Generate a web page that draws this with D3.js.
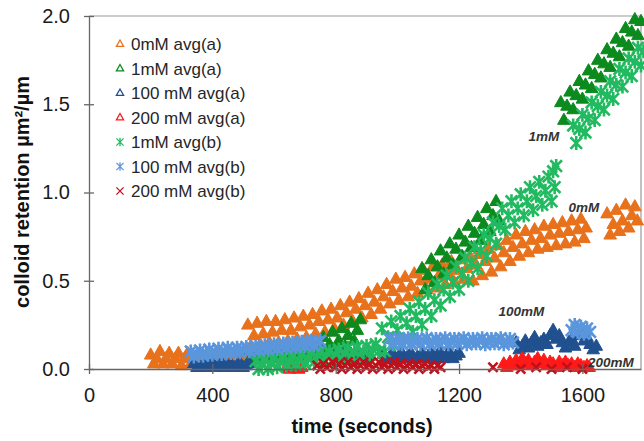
<!DOCTYPE html>
<html>
<head>
<meta charset="utf-8">
<script src="https://cdn.jsdelivr.net/npm/d3@7"></script>
<style>
  html, body { margin: 0; padding: 0; background: #fff; }
  svg { display: block; font-family: "Liberation Sans", Arial, sans-serif; }
</style>
</head>
<body>
<div id="chart"></div>
<script>
// axis ticks
const xTicks = [0, 400, 800, 1200, 1600];
const yTicks = [0, 0.5, 1.0, 1.5, 2.0];

// [time (s), retention]
const mM0a = [
  [200,.08],[210,.03],[220,.06],[230,.10],[240,.03],[250,.06],[260,.09],[270,.03],[280,.06],[290,.09],
  [300,.02],[310,.06],[320,.09],[330,.03],[340,.06],[350,.08],[360,.02],[370,.05],[380,.08],[390,.03],
  [400,.05],[410,.08],[420,.02],[430,.05],[440,.08],[450,.03],[460,.05],[470,.08],[480,.02],[490,.05],[500,.07],
  [515,.25],[525,.13],[535,.19],[545,.26],[555,.14],[565,.20],[575,.27],[585,.15],[595,.21],[605,.27],
  [615,.15],[625,.22],[635,.28],[645,.16],[655,.22],[665,.29],[675,.17],[685,.24],[695,.30],[705,.18],
  [715,.25],[725,.31],[735,.20],[745,.27],[755,.33],[765,.21],[775,.28],[785,.34],[795,.23],[805,.29],
  [815,.36],[825,.25],[835,.32],[845,.38],[855,.27],[865,.34],[875,.40],[885,.29],[895,.36],[905,.43],
  [915,.31],[925,.38],[935,.45],[945,.34],[955,.41],[965,.48],[975,.37],[985,.44],[995,.51],[1005,.39],
  [1015,.46],[1025,.52],[1035,.41],[1045,.47],[1055,.54],[1065,.43],[1075,.50],[1085,.56],[1095,.45],[1105,.51],
  [1115,.58],[1125,.46],[1135,.53],[1145,.59],[1155,.48],[1165,.54],[1175,.61],[1185,.49],[1195,.56],[1205,.62],
  [1215,.51],[1225,.57],[1235,.64],[1245,.50],[1255,.59],[1265,.65],[1275,.53],[1285,.61],[1295,.68],[1305,.55],
  [1315,.63],[1325,.70],[1335,.58],[1345,.66],[1355,.73],[1365,.61],[1375,.69],[1385,.76],[1395,.64],[1405,.71],
  [1415,.78],[1425,.66],[1435,.73],[1445,.79],[1455,.68],[1465,.74],[1475,.81],[1485,.69],[1495,.76],[1505,.82],
  [1515,.70],[1525,.77],[1535,.83],[1545,.71],[1555,.78],[1565,.84],[1575,.72],[1585,.79],[1595,.85],[1605,.74],[1612,.80],
  [1680,.88],[1690,.76],[1700,.82],[1710,.90],[1720,.78],[1730,.84],[1740,.93],[1750,.80],[1760,.87],[1770,.92],[1778,.84]
];
const mM1a = [
  [510,.10],[520,.05],[530,.08],[540,.10],[550,.05],[560,.08],[570,.11],[580,.06],[590,.08],[600,.11],
  [610,.06],[620,.09],[630,.11],[640,.06],[650,.09],[660,.12],[670,.07],[680,.09],[690,.12],[700,.07],
  [710,.10],[720,.12],[730,.08],[740,.10],[750,.13],
  [760,.18],[770,.09],[780,.14],[790,.21],[800,.11],[810,.16],[820,.23],[830,.13],[840,.19],[850,.26],
  [860,.16],[870,.22],[880,.28],
  [1080,.57],[1090,.45],[1100,.53],[1110,.62],[1120,.49],[1130,.58],[1140,.67],[1150,.54],[1160,.63],[1170,.71],
  [1180,.59],[1190,.68],[1200,.76],[1210,.64],[1220,.72],[1230,.81],[1240,.69],[1250,.77],[1260,.86],[1270,.73],
  [1280,.82],[1290,.91],[1300,.78],[1310,.87],[1320,.95],[1330,.84],
  [1530,1.51],[1540,1.41],[1550,1.49],[1560,1.57],[1570,1.47],[1580,1.55],[1590,1.63],[1600,1.53],[1610,1.61],
  [1620,1.69],[1630,1.59],[1640,1.67],[1650,1.75],[1660,1.65],[1670,1.73],[1680,1.81],[1690,1.71],[1700,1.79],
  [1710,1.87],[1720,1.77],[1730,1.85],[1740,1.93],[1750,1.83],[1760,1.91],[1770,1.98],[1780,1.89],[1790,1.97]
];
const mM100a = [
  [340,.03],[350,.01],[360,.02],[370,.035],[380,.01],[390,.02],[400,.03],[410,.01],[420,.02],[430,.035],
  [440,.01],[450,.02],[460,.03],[470,.01],[480,.02],[490,.035],[500,.01],[510,.02],[520,.03],
  [790,.08],[800,.05],[810,.065],[820,.085],[830,.05],[840,.07],[850,.085],[860,.05],[870,.07],[880,.08],
  [890,.05],[900,.065],[910,.08],
  [955,.085],[965,.055],[975,.07],[985,.09],[995,.055],[1005,.075],[1015,.09],[1025,.06],[1035,.075],[1045,.09],
  [1055,.055],[1065,.07],
  [1080,.09],[1090,.06],[1100,.075],[1110,.095],[1120,.06],[1130,.08],[1140,.095],[1150,.06],[1160,.08],[1170,.09],
  [1180,.06],[1190,.075],[1200,.09],
  [1385,.15],[1395,.11],[1405,.13],[1415,.16],[1425,.12],[1435,.15],[1445,.18],[1455,.13],[1465,.15],[1475,.17],
  [1485,.14],[1495,.19],[1505,.22],[1515,.17],[1525,.19],[1535,.15],[1545,.12],[1555,.15],[1565,.17],[1575,.13],
  [1585,.19],[1595,.21],[1605,.16],[1615,.18],[1625,.14],[1635,.11],[1645,.13]
];
const mM200a = [
  [640,.01],[650,.00],[660,.02],[670,.01],[680,.00],[690,.01],
  [1345,.03],[1355,.01],[1365,.04],[1375,.02],[1385,.05],[1395,.02],[1405,.06],[1415,.03],[1425,.05],[1435,.02],
  [1445,.04],[1455,.06],[1465,.03],[1475,.05],[1485,.02],[1495,.04],[1505,.03],[1515,.01],[1525,.04],[1535,.02],
  [1545,.04],[1555,.02],[1565,.03],[1575,.01],[1585,.03],[1595,.02],[1605,.01],[1615,.02],[1622,.01]
];
const mM1b = [
  [540,.045],[550,.00],[560,.025],[570,.05],[580,.00],[590,.03],[600,.06],[610,.01],[620,.04],[630,.065],
  [640,.02],[650,.045],[660,.07],[670,.025],[680,.05],[690,.08],[700,.03],[710,.06],[720,.09],[730,.04],
  [740,.07],[750,.095],[760,.045],[770,.075],[780,.10],[790,.05],[800,.08],[810,.11],[820,.06],[830,.09],
  [840,.12],[850,.07],[860,.095],[870,.125],[880,.075],[890,.10],[900,.13],[910,.08],[920,.11],[930,.14],[940,.10],
  [950,.23],[960,.10],[970,.18],[980,.27],[990,.14],[1000,.22],[1010,.30],[1020,.17],[1030,.26],[1040,.34],
  [1050,.21],[1060,.30],[1070,.38],[1080,.25],[1090,.34],[1100,.43],[1110,.30],[1120,.39],[1130,.48],[1140,.36],
  [1150,.45],[1160,.53],[1170,.41],[1180,.49],[1190,.58],[1200,.45],[1210,.54],[1220,.63],[1230,.50],[1240,.60],
  [1250,.69],[1260,.57],[1270,.67],[1280,.76],[1290,.64],[1300,.74],[1310,.83],[1320,.71],[1330,.81],[1340,.91],
  [1350,.79],[1360,.87],[1370,.95],[1380,.83],[1390,.91],[1400,.99],[1410,.87],[1420,.95],[1430,1.03],[1440,.90],
  [1450,.98],[1460,1.06],[1470,.93],[1480,1.01],[1490,1.09],[1500,.95],[1505,1.12],[1510,1.03],[1515,1.15],
  [1570,1.38],[1580,1.28],[1590,1.36],[1600,1.44],[1610,1.34],[1620,1.42],[1630,1.51],[1640,1.41],[1650,1.49],
  [1660,1.57],[1670,1.47],[1680,1.55],[1690,1.63],[1700,1.53],[1710,1.61],[1720,1.70],[1730,1.60],[1740,1.68],
  [1750,1.76],[1760,1.66],[1770,1.74],[1780,1.82],[1790,1.72],[1798,1.80]
];
const mM100b = [
  [330,.10],[340,.07],[350,.085],[360,.105],[370,.075],[380,.09],[390,.11],[400,.08],[410,.095],[420,.115],
  [430,.085],[440,.10],[450,.12],[460,.09],[470,.105],[480,.12],[490,.095],[500,.11],[510,.125],[520,.10],
  [530,.115],[540,.13],[550,.105],[560,.12],[570,.135],[580,.11],[590,.125],[600,.14],[610,.115],[620,.13],
  [630,.145],[640,.12],[650,.135],[660,.15],[670,.125],[680,.14],[690,.155],[700,.13],[710,.145],[720,.16],
  [730,.135],[740,.15],[750,.16],
  [975,.17],[985,.14],[995,.155],[1005,.175],[1015,.14],[1025,.16],[1035,.175],[1045,.145],[1055,.155],[1065,.17],
  [1075,.14],[1085,.16],[1095,.175],[1105,.14],[1115,.155],[1125,.17],[1135,.145],[1145,.16],[1155,.175],[1165,.14],
  [1175,.155],[1185,.17],[1195,.145],[1205,.16],[1215,.175],[1225,.14],[1235,.155],[1245,.17],[1255,.145],[1265,.16],
  [1275,.175],[1285,.14],[1295,.155],[1305,.17],[1315,.145],[1325,.16],[1335,.175],[1345,.14],[1355,.155],[1365,.17],
  [1375,.15],
  [1565,.22],[1575,.25],[1585,.21],[1595,.24],[1605,.20],[1615,.23],[1625,.21]
];
const mM200b = [
  [740,.02],[750,.00],[760,.03],[770,.01],[780,.02],[790,.04],[800,.01],[810,.03],[820,.00],[830,.02],
  [840,.04],[850,.01],[860,.03],[870,.00],[880,.02],[890,.04],[900,.01],[910,.03],[920,.00],[930,.02],
  [940,.04],[950,.01],[960,.03],[970,.00],[980,.02],[990,.04],[1000,.01],[1010,.03],[1020,.00],[1030,.02],
  [1040,.03],[1050,.01],[1060,.03],[1070,.00],[1080,.02],[1090,.03],[1100,.01],[1110,.02],[1120,.00],[1130,.02],
  [1140,.01],
  [1310,.01],
  [1400,.00],[1450,.01],[1500,.00],[1550,.01],[1600,.00]
];

const series = [
  { name: '0mM avg(a)',     data: mM0a,   color: '#E8711C', shape: 'tri'  },
  { name: '1mM avg(a)',     data: mM1a,   color: '#0C8A1E', shape: 'tri'  },
  { name: '100 mM avg(a)',  data: mM100a, color: '#21508F', shape: 'tri'  },
  { name: '200 mM avg(a)',  data: mM200a, color: '#FF1A1A', shape: 'tri'  },
  { name: '1mM avg(b)',     data: mM1b,   color: '#22BA60', shape: 'star' },
  { name: '100 mM avg(b)',  data: mM100b, color: '#5A96DC', shape: 'star' },
  { name: '200 mM avg(b)',  data: mM200b, color: '#C0101A', shape: 'x'    }
];

const notes = [
  { text: '1mM',   t: 1425, v: 1.29 },
  { text: '0mM',   t: 1555, v: 0.89 },
  { text: '100mM', t: 1328, v: 0.30 },
  { text: '200mM', t: 1618, v: 0.012 }
];

const W = 644, H = 441;
const svg = d3.select('#chart').append('svg')
  .attr('width', W).attr('height', H)
  .attr('viewBox', `0 0 ${W} ${H}`);

const x = d3.scaleLinear().domain([0, 1790]).range([89, 641]);
const y = d3.scaleLinear().domain([0, 2]).range([369, 16]);

function markerPath(shape, r) {
  if (shape === 'tri') {
    return `M0,${-r}L${r * 0.9},${r * 0.6}L${-r * 0.9},${r * 0.6}Z`;
  }
  if (shape === 'star') {
    return `M${-r},${-r}L${r},${r}M${-r},${r}L${r},${-r}M0,${-r * 1.2}L0,${r * 1.2}`;
  }
  return `M${-r},${-r}L${r},${r}M${-r},${r}L${r},${-r}`;
}

// plot area border (top / right)
svg.append('path')
  .attr('d', `M${x(0)},${y(2)}H${x(1790)}V${y(0)}`)
  .attr('fill', 'none').attr('stroke', '#9a9a9a').attr('stroke-width', 1.2);

// points: the source clouds are so dense they read as solid bands,
// so the triangles are filled here
const pts = svg.append('g').attr('class', 'points');
series.forEach(s => {
  const tri = s.shape === 'tri';
  pts.append('g')
    .selectAll('path').data(s.data).join('path')
    .attr('transform', d => `translate(${x(d[0])},${y(d[1])})`)
    .attr('d', markerPath(s.shape, tri ? 7 : (s.shape === 'star' ? 5.8 : 4.6)))
    .attr('fill', tri ? s.color : 'none')
    .attr('stroke', s.color)
    .attr('stroke-width', tri ? 1 : 2.6);
});

// axes
const gx = svg.append('g').attr('transform', `translate(0,${y(0)})`)
  .call(d3.axisBottom(x).tickValues(xTicks).tickFormat(d3.format('d'))
    .tickSizeOuter(0).tickSizeInner(5).tickPadding(14));
gx.select('.domain').attr('stroke', '#666').attr('stroke-width', 1.3);
gx.selectAll('.tick line').attr('y1', -5).attr('y2', 5).attr('stroke', '#666').attr('stroke-width', 1.3);
gx.selectAll('.tick text').attr('font-size', 20).attr('fill', '#1a1a1a')
  .attr('font-family', '"Liberation Sans", Arial, sans-serif');

const gy = svg.append('g').attr('transform', `translate(${x(0)},0)`)
  .call(d3.axisLeft(y).tickValues(yTicks).tickFormat(d3.format('.1f'))
    .tickSizeOuter(0).tickSizeInner(5).tickPadding(14));
gy.select('.domain').attr('stroke', '#666').attr('stroke-width', 1.3);
gy.selectAll('.tick line').attr('x1', -5).attr('x2', 5).attr('stroke', '#666').attr('stroke-width', 1.3);
gy.selectAll('.tick text').attr('font-size', 20).attr('fill', '#1a1a1a')
  .attr('font-family', '"Liberation Sans", Arial, sans-serif');

// axis titles
svg.append('text')
  .attr('x', 362).attr('y', 433)
  .attr('text-anchor', 'middle')
  .attr('font-size', 20).attr('font-weight', 'bold').attr('fill', '#111')
  .text('time (seconds)');

svg.append('text')
  .attr('transform', 'translate(29,192) rotate(-90)')
  .attr('text-anchor', 'middle')
  .attr('font-size', 20).attr('font-weight', 'bold').attr('fill', '#111')
  .text('colloid retention µm²/µm');

// in-plot labels
svg.append('g').selectAll('text').data(notes).join('text')
  .attr('x', d => x(d.t)).attr('y', d => y(d.v))
  .attr('font-size', 13.5).attr('font-weight', 'bold').attr('font-style', 'italic')
  .attr('fill', '#333')
  .text(d => d.text);

// legend
const lg = svg.append('g').attr('transform', 'translate(120,44)');
const rows = lg.selectAll('g').data(series).join('g')
  .attr('transform', (d, i) => `translate(0,${i * 24.5})`);
rows.append('path')
  .attr('d', d => markerPath(d.shape, d.shape === 'tri' ? 4 : 3.6))
  .attr('fill', 'none')
  .attr('stroke', d => d.color)
  .attr('stroke-width', 1.3);
rows.append('text')
  .attr('x', 11).attr('y', 6)
  .attr('font-size', 17).attr('fill', '#262626')
  .text(d => d.name);
</script>
</body>
</html>
